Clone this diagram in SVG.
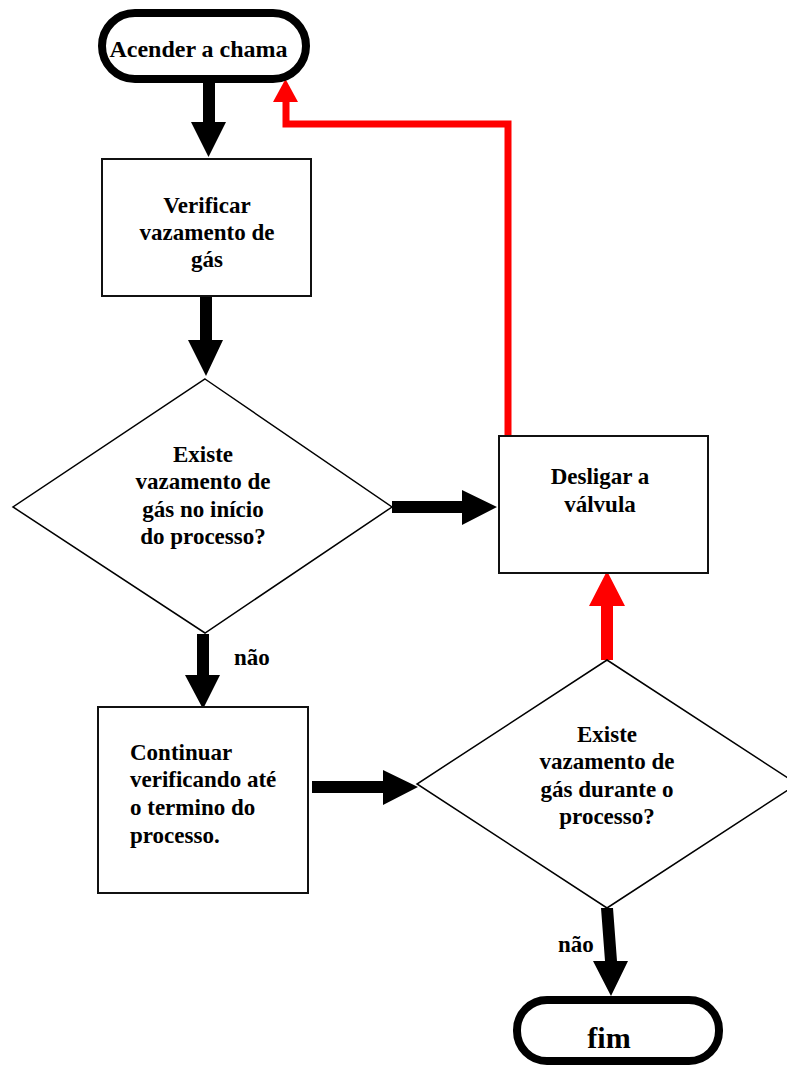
<svg xmlns="http://www.w3.org/2000/svg" width="787" height="1066" viewBox="0 0 787 1066">
<style>
.t{font-family:"Liberation Serif","Times New Roman",serif;font-weight:bold;font-size:23px;fill:#000}
.c{text-anchor:middle}
.box{fill:#fff;stroke:#111;stroke-width:2}
.dia{fill:#fff;stroke:#000;stroke-width:1.5}
.term{fill:#fff;stroke:#000;stroke-width:8}
.ab{fill:#000}
.ar{fill:#f00}
</style>
<rect width="787" height="1066" fill="#fff"/>
<g id="connectors">
<polygon class="ab" points="203,83 215,83 215,122 226,122 208.5,157 191,122 203,122"/>
<polygon class="ab" points="200,296 212,296 212,340 223,340 206,376 188,340 200,340"/>
<polygon class="ab" points="392,501 462,501 462,490 497,507 462,525 462,513 392,513"/>
<polygon class="ab" points="197,634 209,634 209,675 220,675 203,709 185,675 197,675"/>
<polygon class="ab" points="312,781 383,781 383,770 418,787 383,805 383,793 312,793"/>
<polygon class="ab" points="601,908 613,908 617,961 628,961 611,996 593,961 605,961"/>
<polygon class="ar" points="601,660 613,660 613,606 625,606 607,571 589,606 601,606"/>
<polyline points="508,436 508,124 286,124 286,100" fill="none" stroke="#f00" stroke-width="7"/>
<polygon class="ar" points="273,102 298,102 285.5,79"/>
<text class="t" x="234" y="665">não</text>
<text class="t" x="558" y="952">não</text>
</g>
<g id="start">
<rect class="term" x="102" y="13" width="204" height="66" rx="33"/>
<text class="t c" x="198.5" y="57" style="font-size:24px">Acender a chama</text>
</g>
<g id="verificar">
<rect class="box" x="102" y="159" width="209" height="137"/>
<text class="t c" x="207" y="213">Verificar</text>
<text class="t c" x="207" y="240">vazamento de</text>
<text class="t c" x="207" y="267">gás</text>
</g>
<g id="decisao1">
<polygon class="dia" points="205,379 392,507 205,633 13,507"/>
<text class="t c" x="203" y="462">Existe</text>
<text class="t c" x="203" y="489">vazamento de</text>
<text class="t c" x="203" y="517">gás no início</text>
<text class="t c" x="203" y="544">do processo?</text>
</g>
<g id="desligar">
<rect class="box" x="499" y="436" width="209" height="137"/>
<text class="t c" x="600" y="484">Desligar a</text>
<text class="t c" x="600" y="512">válvula</text>
</g>
<g id="continuar">
<rect class="box" x="98" y="707" width="210" height="186"/>
<text class="t" x="130" y="760">Continuar</text>
<text class="t" x="130" y="787">verificando até</text>
<text class="t" x="130" y="815">o termino do</text>
<text class="t" x="130" y="843">processo.</text>
</g>
<g id="decisao2">
<polygon class="dia" points="607,660 797,784 607,908 417,784"/>
<text class="t c" x="607" y="742">Existe</text>
<text class="t c" x="607" y="769">vazamento de</text>
<text class="t c" x="607" y="797">gás durante o</text>
<text class="t c" x="607" y="824">processo?</text>
</g>
<g id="fim">
<rect class="term" x="517" y="1000" width="202" height="61" rx="30"/>
<text class="t c" x="609" y="1048" style="font-size:30px">fim</text>
</g>
</svg>
